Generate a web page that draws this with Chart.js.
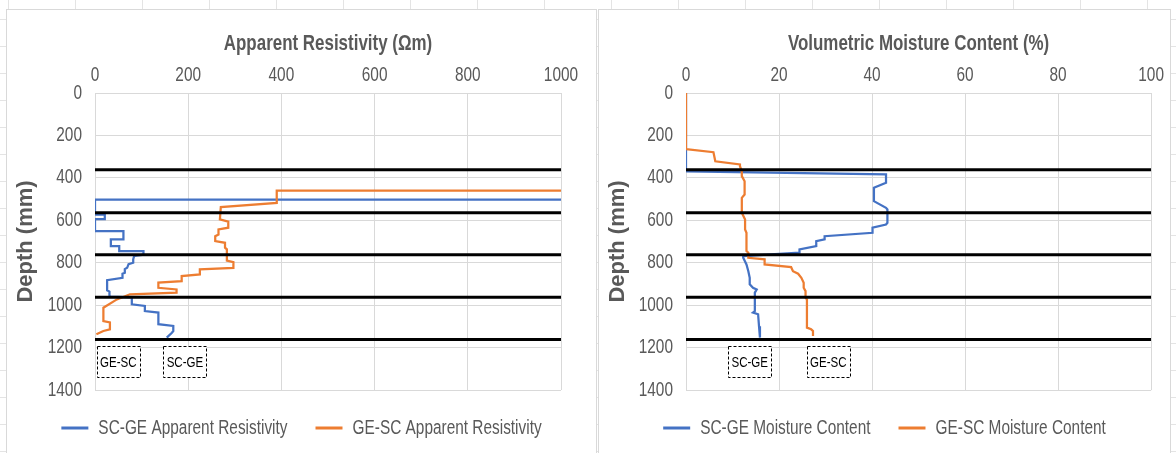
<!DOCTYPE html>
<html>
<head>
<meta charset="utf-8">
<script src="https://cdn.jsdelivr.net/npm/chart.js@4.4.1/dist/chart.umd.min.js"></script>
<style>
  body {
    margin: 0; width: 1176px; height: 453px; overflow: hidden; background-color: #fff;
    background-image:
      repeating-linear-gradient(90deg, transparent 0 8px, #e4e4e4 8px 9px, transparent 9px 67px),
      repeating-linear-gradient(180deg, transparent 0 19px, #e4e4e4 19px 20px, transparent 20px 27px);
  }
  .panel { position: absolute; top: 9px; height: 460px; background: #fff; border: 1px solid #d9d9d9; }
  #p1 { left: 6px; width: 589px; }
  #p2 { left: 598px; width: 571px; }
  canvas { display: block; }
</style>
</head>
<body>
<div class="panel" id="p1"><canvas id="resChart" width="589" height="443"></canvas></div>
<div class="panel" id="p2"><canvas id="mcChart" width="571" height="443"></canvas></div>
<script>
// layer boundaries (mm)
const layerDepths = [362, 564, 762, 963, 1162];

// apparent resistivity (Ωm) vs depth (mm)
const scGeResValue = [1000, 0, 0, 21, 21, 0, 0, 61, 61, 34, 34, 52, 52, 104, 104, 84, 82, 82, 72, 69, 64, 64, 59, 59, 26, 26, 31, 31, 33, 79, 79, 107, 107, 136, 136, 168, 168, 165, 154];
const scGeResDepth = [503, 503, 573, 573, 595, 595, 651, 651, 690, 690, 722, 722, 745, 745, 762, 768, 784, 800, 807, 824, 830, 847, 852, 871, 882, 930, 936, 955, 960, 963, 996, 1004, 1028, 1035, 1090, 1098, 1122, 1130, 1153];
const geScResValue = [1000, 390, 390, 270, 268, 286, 286, 265, 265, 258, 258, 279, 279, 283, 283, 297, 297, 225, 225, 186, 186, 136, 136, 175, 175, 75, 47, 18, 18, 32, 32, 18, 3];
const geScResDepth = [460, 460, 518, 538, 596, 606, 635, 643, 667, 675, 698, 706, 729, 737, 790, 797, 824, 831, 855, 863, 887, 894, 918, 926, 941, 949, 973, 1012, 1075, 1081, 1114, 1122, 1137];

// volumetric moisture content (%) vs depth (mm)
const scGeMcValue = [0, 0, 43, 43, 40.4, 40.4, 43, 43.3, 43.3, 43, 40.1, 40.1, 29.8, 29.8, 28, 28, 24.4, 24.4, 12.3, 12.3, 13, 13.4, 13.7, 13.7, 14.4, 15.2, 14.8, 14.8, 14.4, 15.5, 15.7, 15.9];
const scGeMcDepth = [0, 369, 384, 423, 447, 510, 541, 549, 612, 620, 635, 659, 675, 690, 698, 722, 737, 753, 769, 777, 808, 840, 871, 902, 918, 926, 941, 1028, 1035, 1043, 1100, 1153];
const geScMcValue = [0, 0, 5.9, 6.3, 11.6, 11.6, 12, 12, 12.6, 12.6, 12, 12, 12.7, 12.7, 13, 13, 13.4, 13.4, 16.9, 16.9, 22.6, 23, 24.1, 24.8, 25.3, 25.3, 25.7, 25.7, 26, 26, 26.9, 27.3, 27.3];
const geScMcDepth = [0, 264, 279, 322, 337, 345, 369, 392, 416, 479, 494, 565, 596, 643, 659, 745, 753, 777, 784, 808, 821, 840, 852, 871, 894, 918, 934, 965, 973, 1106, 1114, 1122, 1145];

// dashed direction boxes
const resBoxLabels = ['GE-SC', 'SC-GE'];
const resBoxValues = [50, 193];
const mcBoxLabels = ['SC-GE', 'GE-SC'];
const mcBoxValues = [13.7, 30.6];
const boxDepth = 1268;

const BLUE = '#4472C4', ORANGE = '#ED7D31', GREY = '#595959';
const SANS = "'Liberation Sans', Arial, sans-serif";

function pts(values, depths) {
  return values.map((v, i) => ({x: v, y: depths[i]}));
}

// the source screenshot is squeezed sideways; squeeze horizontal text the same way
function condense(canvas, k) {
  const ctx = canvas.getContext('2d');
  const fill = ctx.fillText.bind(ctx), measure = ctx.measureText.bind(ctx);
  const rotated = () => ctx.getTransform().b !== 0;
  ctx.fillText = function (text, x, y, maxWidth) {
    if (rotated()) return fill(text, x, y, maxWidth);
    ctx.save();
    ctx.translate(x, y);
    ctx.scale(k, 1);
    fill(text, 0, 0);
    ctx.restore();
  };
  ctx.measureText = function (text) {
    const m = measure(text);
    return {
      width: rotated() ? m.width : m.width * k,
      actualBoundingBoxAscent: m.actualBoundingBoxAscent,
      actualBoundingBoxDescent: m.actualBoundingBoxDescent
    };
  };
}

const boxPlugin = {
  id: 'dirBoxes',
  afterDatasetsDraw(chart, args, opts) {
    const {ctx, scales} = chart;
    ctx.save();
    ctx.font = '15px ' + SANS;
    ctx.textAlign = 'center';
    ctx.textBaseline = 'middle';
    opts.labels.forEach((t, i) => {
      const cx = scales.x.getPixelForValue(opts.values[i]);
      const cy = scales.y.getPixelForValue(opts.depth);
      const w = 43, h = 31;
      ctx.fillStyle = '#fff';
      ctx.fillRect(cx - w / 2, cy - h / 2, w, h);
      ctx.setLineDash([3, 2]);
      ctx.lineWidth = 1;
      ctx.strokeStyle = '#000';
      ctx.strokeRect(Math.round(cx - w / 2) + 0.5, Math.round(cy - h / 2) + 0.5, w, h);
      ctx.fillStyle = '#000';
      ctx.fillText(t, cx, cy + 1);
    });
    ctx.restore();
  }
};

function makeChart(id, o) {
  const canvas = document.getElementById(id);
  condense(canvas, 0.77);
  const layers = layerDepths.map(d => ({
    label: 'layer',
    data: [{x: 0, y: d}, {x: o.xMax, y: d}],
    borderColor: '#000', backgroundColor: '#000', borderWidth: 3,
    pointRadius: 0, showLine: true, order: 0
  }));
  return new Chart(canvas, {
    type: 'scatter',
    data: {
      datasets: [
        {label: o.names[0], data: o.series[0], borderColor: BLUE, backgroundColor: BLUE,
         borderWidth: 2.25, pointRadius: 0, showLine: true, order: 2},
        {label: o.names[1], data: o.series[1], borderColor: ORANGE, backgroundColor: ORANGE,
         borderWidth: 2.25, pointRadius: 0, showLine: true, order: 1},
        ...layers
      ]
    },
    options: {
      responsive: false,
      animation: false,
      layout: {padding: {left: 0, right: 0, top: 0, bottom: 5}},
      scales: {
        x: {
          type: 'linear', position: 'top', min: 0, max: o.xMax,
          afterFit: s => { s.height = 83; },
          ticks: {stepSize: o.xStep, color: GREY, font: {family: SANS, size: 20}, padding: 6,
                  callback: v => String(v)},
          grid: {color: '#d9d9d9', drawTicks: false},
          border: {color: '#d9d9d9'},
          title: {display: true, text: o.title, color: GREY,
                  font: {family: SANS, size: 22, weight: 'bold'}, padding: {top: 21, bottom: 0}}
        },
        y: {
          type: 'linear', position: 'left', reverse: true, min: 0, max: 1400,
          afterFit: s => { s.width = o.yWidth; },
          ticks: {stepSize: 200, color: GREY, font: {family: SANS, size: 20}, padding: 13,
                  callback: v => String(v)},
          grid: {color: '#d9d9d9', drawTicks: false},
          border: {color: '#d9d9d9'},
          title: {display: true, text: 'Depth (mm)', color: GREY,
                  font: {family: SANS, size: 22, weight: 'bold'},
                  padding: {top: 6, bottom: 0}}
        },
        yr: {
          type: 'linear', position: 'right', display: true,
          afterFit: s => { s.width = o.rightWidth; },
          ticks: {display: false}, grid: {display: false}, border: {display: false}
        }
      },
      plugins: {
        tooltip: {enabled: false},
        legend: {
          position: 'bottom',
          labels: {
            color: GREY, font: {family: SANS, size: 20},
            boxWidth: 27, boxHeight: 3, padding: 28,
            filter: item => item.text !== 'layer',
            sort: (a, b) => a.datasetIndex - b.datasetIndex,
            generateLabels: chart => Chart.defaults.plugins.legend.labels.generateLabels(chart)
              .map(it => Object.assign(it, {lineWidth: 0, fillStyle: it.strokeStyle}))
          }
        },
        dirBoxes: {labels: o.boxLabels, values: o.boxValues, depth: boxDepth}
      }
    },
    plugins: [boxPlugin]
  });
}

makeChart('resChart', {
  xMax: 1000, xStep: 200, title: 'Apparent Resistivity (Ωm)',
  names: ['SC-GE Apparent Resistivity', 'GE-SC Apparent Resistivity'],
  series: [pts(scGeResValue, scGeResDepth), pts(geScResValue, geScResDepth)],
  boxLabels: resBoxLabels, boxValues: resBoxValues,
  yWidth: 88, rightWidth: 35
});

makeChart('mcChart', {
  xMax: 100, xStep: 20, title: 'Volumetric Moisture Content (%)',
  names: ['SC-GE Moisture Content', 'GE-SC Moisture Content'],
  series: [pts(scGeMcValue, scGeMcDepth), pts(geScMcValue, geScMcDepth)],
  boxLabels: mcBoxLabels, boxValues: mcBoxValues,
  yWidth: 87, rightWidth: 16
});
</script>
</body>
</html>
